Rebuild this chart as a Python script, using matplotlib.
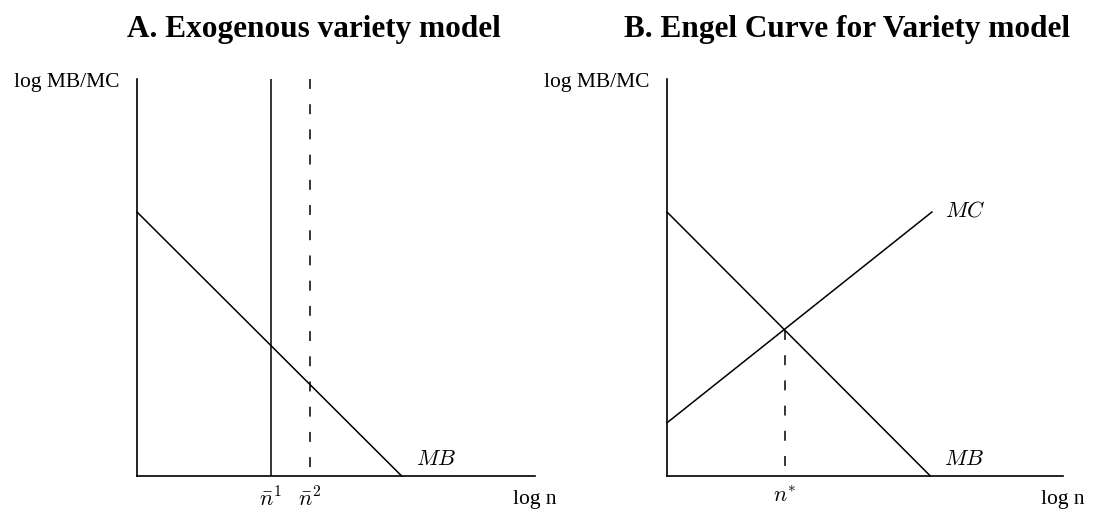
import matplotlib
matplotlib.use("Agg")
import matplotlib.pyplot as plt

plt.rcParams["font.family"] = ["Liberation Serif", "DejaVu Serif"]
plt.rcParams["mathtext.fontset"] = "cm"

# Panel A: exogenous variety, downward-sloping marginal benefit
mb_x = [0.0, 0.665]
mb_y = [0.665, 0.0]
n_bar = [0.336, 0.435]          # n̄¹ (solid), n̄² (dashed)
n_bar_labels = [r"$\bar{n}^1$", r"$\bar{n}^2$"]

# Panel B: marginal cost rises, intersection gives n*
mc_x = [0.0, 0.669]
mc_y = [0.134, 0.665]
n_star = 0.298
n_star_label = r"$n^{*}$"

titles = ["A. Exogenous variety model", "B. Engel Curve for Variety model"]
ylabel = "log MB/MC"
xlabel = "log n"

W, H = 1113, 514
fig = plt.figure(figsize=(W / 100, H / 100), dpi=100)

def px_axes(left, right, top, bottom):
    return fig.add_axes([left / W, 1 - bottom / H, (right - left) / W, (bottom - top) / H])

axA = px_axes(137, 535, 79, 476)
axB = px_axes(667, 1063, 79, 476)

lw = 1.1
dash = (0, (6.5, 10))

for ax in (axA, axB):
    ax.set_xlim(0, 1)
    ax.set_ylim(0, 1)
    for s in ("top", "right"):
        ax.spines[s].set_visible(False)
    for s in ("left", "bottom"):
        ax.spines[s].set_linewidth(1.2)
    ax.set_yticks([])
    ax.tick_params(axis="x", length=0, pad=8, labelsize=16)
    ax.text(-0.045, 0.99, ylabel, transform=ax.transAxes, ha="right", va="center",
            fontsize=15.5)
    ax.text(1.0, -0.058, xlabel, transform=ax.transAxes, ha="center", va="center",
            fontsize=15.5)
    ax.plot(mb_x, mb_y, color="black", lw=lw, clip_on=False)
    ax.text(mb_x[1] + 0.035, 0.015, r"$MB$", ha="left", va="bottom", fontsize=16)

# Panel A
axA.plot([n_bar[0], n_bar[0]], [0, 1], color="black", lw=lw)
axA.plot([n_bar[1], n_bar[1]], [1, 0], color="black", lw=lw, linestyle=dash)
axA.set_xticks(n_bar)
axA.set_xticklabels(n_bar_labels)
axA.set_title(titles[0], fontsize=22.5, fontweight="bold", pad=30, x=0.445)

# Panel B
axB.plot(mc_x, mc_y, color="black", lw=lw, clip_on=False)
axB.text(mc_x[1] + 0.032, mc_y[1], r"$MC$", ha="left", va="center", fontsize=16)
y_star = mb_y[0] - n_star
axB.plot([n_star, n_star], [y_star, 0], color="black", lw=lw, linestyle=dash)
axB.set_xticks([n_star])
axB.set_xticklabels([n_star_label])
axB.set_title(titles[1], fontsize=22.5, fontweight="bold", pad=30, x=0.455)

fig.savefig("out.png", dpi=100)
